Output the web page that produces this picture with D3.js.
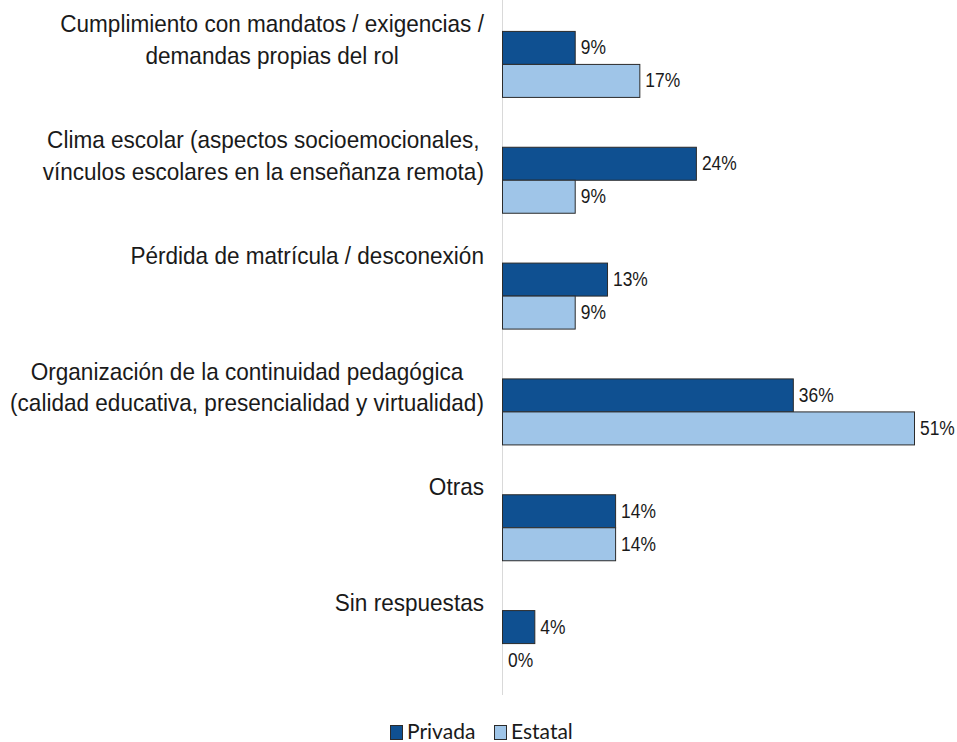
<!DOCTYPE html>
<html lang="es">
<head>
<meta charset="UTF-8">
<title>Privada vs Estatal</title>
<script src="https://d3js.org/d3.v7.min.js"></script>
<style>
  body { margin: 0; background: #fff; }
  svg { display: block; }
</style>
</head>
<body>
<div id="chart"></div>
<script>
// data
const categories = [
  "Cumplimiento con mandatos / exigencias /\ndemandas propias del rol",
  "Clima escolar (aspectos socioemocionales,\nvínculos escolares en la enseñanza remota)",
  "Pérdida de matrícula / desconexión",
  "Organización de la continuidad pedagógica\n(calidad educativa, presencialidad y virtualidad)",
  "Otras",
  "Sin respuestas"
];
const series = ["Privada", "Estatal"];
const privada = [9, 24, 13, 36, 14, 4];
const estatal = [17, 9, 9, 51, 14, 0];
const colors = ["#0f5091", "#9fc5e8"];

const width = 957, height = 742;
const sxCat = 0.94; // category text squeezed a little
const sxVal = 0.87;

const svg = d3.select("#chart").append("svg")
  .attr("width", width)
  .attr("height", height);

const x = d3.scaleLinear().domain([0, 51]).range([502, 914]);
const y = d3.scaleBand().domain(categories).range([6, 701]);
const yInner = d3.scaleBand().domain(series).range([0, 66]);

const rows = categories.map((c, i) => ({ cat: c, values: [privada[i], estatal[i]] }));

// axis line
svg.append("line")
  .attr("x1", x(0) + 0.5).attr("x2", x(0) + 0.5)
  .attr("y1", 0).attr("y2", 695)
  .attr("stroke", "#d9d9d9")
  .attr("stroke-width", 1);

const group = svg.selectAll(".grp")
  .data(rows)
  .join("g")
  .attr("class", "grp")
  .attr("transform", d => `translate(0,${y(d.cat) + y.bandwidth() / 2 - 33})`);

group.selectAll("rect")
  .data(d => d.values.map((v, j) => ({ s: series[j], v, j })))
  .join("rect")
  .filter(d => d.v > 0)
  .attr("x", x(0) + 0.5)
  .attr("y", d => yInner(d.s) + 0.5)
  .attr("width", d => x(d.v) - x(0))
  .attr("height", yInner.bandwidth())
  .attr("fill", d => colors[d.j])
  .attr("stroke", "#2b2b2b")
  .attr("stroke-width", 1);

// value labels
group.selectAll(".val")
  .data(d => d.values.map((v, j) => ({ s: series[j], v, j })))
  .join("text")
  .attr("class", "val")
  .attr("transform", d => `translate(${x(d.v) + 6},${yInner(d.s) + yInner.bandwidth() / 2 + 7}) scale(${sxVal},1)`)
  .attr("font-family", "Liberation Sans, Arial, sans-serif")
  .attr("font-size", 20)
  .attr("fill", "#1a1a1a")
  .text(d => d.v + "%");

// category labels: lines centred, block right aligned
rows.forEach(r => {
  const lines = r.cat.split("\n");
  const g = svg.append("g");
  const texts = lines.map((line, k) => g.append("text")
    .attr("text-anchor", "middle")
    .attr("font-family", "Liberation Sans, Arial, sans-serif")
    .attr("font-size", 24)
    .attr("fill", "#1a1a1a")
    .attr("y", k * 32)
    .text(line));
  const w = d3.max(texts, t => t.node().getComputedTextLength()) * sxCat;
  g.attr("transform", `translate(${484 - w / 2},${y(r.cat) + 26}) scale(${sxCat},1)`);
});

// legend
const legend = svg.append("g").attr("transform", "translate(390,739)");
const legX = [0, 104];
series.forEach((s, j) => {
  const lg = legend.append("g").attr("transform", `translate(${legX[j]},0)`);
  lg.append("rect")
    .attr("x", 0.5).attr("y", -13.5)
    .attr("width", 12).attr("height", 14)
    .attr("fill", colors[j])
    .attr("stroke", "#2b2b2b");
  lg.append("text")
    .attr("x", 17)
    .attr("font-family", "Lato, Open Sans, sans-serif")
    .attr("font-size", 21)
    .attr("fill", "#1a1a1a")
    .text(s);
});
</script>
</body>
</html>
